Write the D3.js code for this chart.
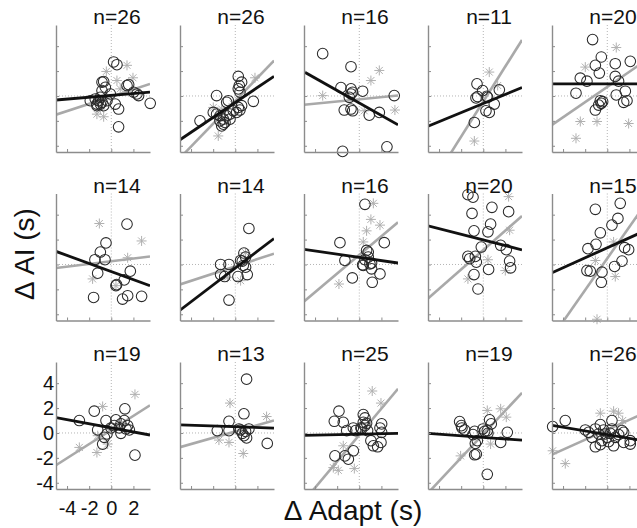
<!DOCTYPE html>
<html>
<head>
<meta charset="utf-8">
<style>
  body { margin: 0; background: #fff; }
  svg { display: block; font-family: "Liberation Sans", Arial, sans-serif; }
</style>
</head>
<body>
<svg id="chart"></svg>
<script src="https://cdn.jsdelivr.net/npm/d3@7"></script>
<script>
// panel titles, row by row
const nLabels = ["n=26", "n=26", "n=16", "n=11", "n=20",
                 "n=14", "n=14", "n=16", "n=20", "n=15",
                 "n=19", "n=13", "n=25", "n=19", "n=26"];

const xTicks = [-4, -2, 0, 2];
const yTicks = [-4, -2, 0, 2, 4];

// open circles (x = change in adaptation, y = change in AI)
const circleX = [
  [0.21, 0.51, -0.84, -0.69, 1.42, 1.57, -0.84, -0.99, -1.14, -1.3, -0.69, -0.99, -0.39, 0.36, 0.66, 2.32, 2.47, 3.52, 0.66, -1.9, -1.45, -0.54, -0.09, 2.02, -0.84, -1.3],
  [0.27, 0.57, 0.36, 0.27, 0.42, -1.69, -0.63, -0.78, 1.63, -3.19, -1.99, -1.39, -1.08, -0.93, -1.23, -1.08, -0.48, -0.18, 0.27, 0.57, 0.42, 0.12, -1.39, -0.78, -0.48, -1.69],
  [-3.31, -0.75, -1.66, -0.75, -0.6, -0.75, 0.3, -0.9, -1.36, -0.75, -0.6, 0.9, 1.81, 3.16, -1.51, 2.5],
  [-0.57, -0.66, -0.51, 0.33, 0.39, 1.45, 0.99, 0.24, 0.54, -0.81, -0.06],
  [-1.33, -0.54, -1.08, -0.72, 0.72, 2.08, -2.44, -1.84, 0.72, 1.02, -2.83, 1.63, 0.81, 1.48, 1.78, -0.63, -0.54, -0.78, -1.08, -0.42],
  [1.42, -0.48, -0.99, -1.48, -0.57, -1.23, 1.72, 0.42, 1.48, 1.02, 2.74, -1.6, 0.48, 1.17],
  [1.23, -1.33, -0.57, -1.33, -0.96, 0.48, 0.78, 0.93, 0.72, 0.24, 1.08, -0.57, 0.63, 0.93],
  [0.51, -1.75, 2.26, 0.66, 0.81, -1.3, 0.51, 0.36, 0.96, 1.11, 1.11, 1.87, -0.63, 1.17, 0.3, 0.81],
  [-1.39, -0.93, -1.02, 0.78, -0.84, 0.66, 0.42, 2.29, -0.18, 1.57, 2.08, -1.39, -0.72, -0.63, 0.48, 2.38, 2.47, -0.84, -0.48, -1.23],
  [-1.08, 1.17, 0.96, 0.42, -0.63, -1.02, -1.75, 1.57, 1.33, 0.66, -1.84, -1.54, -0.48, -0.54, 1.93],
  [-2.89, -1.54, 1.23, -1.23, -0.48, 0.42, 0.87, 1.17, 1.48, 0.72, 1.33, 0.87, -0.39, -0.63, -0.78, 2.14, -0.03, 0.27, 1.63],
  [1.02, -0.57, 0.78, -1.63, -0.57, 0.48, 0.93, 0.78, 1.02, 2.89, 1.23, 0.63, 0.33],
  [-1.84, -1.45, -2.26, -0.54, 0.36, 0.51, 0.36, 0.51, 0.15, 2.02, 1.87, 2.02, -1.14, -0.33, 0.75, 1.05, 1.27, 1.66, 1.96, -2.2, -1.3, -0.99, -0.54, 0.21, 0.66],
  [-2.14, -1.93, -0.78, -0.93, -0.54, -0.78, -0.63, 0.36, 0.57, 0.72, 0.36, 0.42, 2.17, 1.57, -1.99, -0.03, 0.12, -0.72, -1.69],
  [-3.8, -4.94, -1.99, -0.63, 0.42, 0.42, 1.33, 1.48, -0.78, -0.18, 0.27, -1.08, -0.63, 0.57, 1.48, 2.08, -1.39, -0.33, -0.03, 0.72, -1.69, 1.02, 2.08, -0.48, 0.12, -1.08]
];
const circleY = [
  [2.73, 2.51, 1.11, 1.16, 0.84, 0.92, 0.43, -0.11, -0.38, -0.65, -0.78, -0.65, -0.38, -0.65, -1.05, 0.16, 0.03, -0.59, -2.48, -0.38, -0.24, 0.7, 0.16, 0.3, -0.51, -0.78],
  [1.57, 1.11, 0.84, 0.57, 0.3, 0.03, -0.38, -0.51, -0.43, -2.0, -1.32, -1.59, -1.86, -2.13, -2.4, -2.27, -1.46, -1.19, -0.92, -0.78, -1.13, -1.32, -2.0, -1.59, -1.86, -1.46],
  [3.4, 2.35, 0.67, 0.57, 0.3, 0.16, 0.38, -0.11, -1.13, -1.05, -1.19, -1.54, -1.32, 0.03, -4.45, -4.08],
  [0.97, -0.16, -0.05, -0.03, -0.11, 0.49, -0.65, -1.19, -1.32, -2.13, 0.43],
  [4.53, 3.13, 2.46, 1.84, 2.59, 2.78, 1.43, 1.19, 1.57, 1.19, 0.22, 0.38, 0.08, -0.51, -0.38, -0.38, -0.59, -0.73, -1.13, -0.46],
  [3.24, 1.73, 1.0, 0.38, 0.38, -0.7, -0.54, -1.7, -2.51, -2.78, -2.56, -2.65, -1.62, -1.24],
  [2.89, 0.0, 0.0, -0.81, -0.97, 0.32, 0.92, 0.59, -0.08, -0.97, -0.81, -2.86, 0.27, -0.22],
  [4.83, 1.75, 1.75, 1.13, 1.0, 0.32, 0.38, -0.08, 0.05, 0.11, -0.35, -0.76, -1.08, -1.43, -0.03, 0.59],
  [5.6, 5.4, 4.1, 4.59, 2.7, 3.24, 2.62, 4.24, 1.4, 1.54, 1.19, 0.65, 0.65, 0.19, -0.4, 0.27, -0.27, -0.81, -1.97, 0.46],
  [4.43, 4.91, 3.7, 3.16, 2.54, 1.62, 1.27, 1.35, 0.27, -0.16, -0.49, -0.54, -0.62, -1.43, 1.19],
  [1.0, 1.75, 1.94, 0.24, 1.0, 1.05, 0.73, 1.0, 0.59, 0.4, 0.32, -0.03, -0.08, -0.35, -0.89, -1.78, 0.4, 0.59, 0.24],
  [4.32, 0.94, 1.54, 0.19, 0.19, 0.24, 0.13, -0.22, -0.4, -0.84, 0.32, -0.03, 0.32],
  [1.75, 0.86, 0.94, 0.4, 1.48, 1.21, 0.86, 0.59, 0.4, 0.73, 0.4, 0.05, 0.19, 0.19, 0.19, -0.62, -1.03, -1.11, -0.76, -1.84, -1.84, -2.11, -1.43, 0.32, 0.78],
  [0.92, 0.4, 0.13, -0.13, -0.62, -1.75, -1.7, -3.32, 1.05, 0.73, 0.19, -0.03, 0.05, -0.76, 0.59, 0.32, 0.13, -0.84, 0.24],
  [1.0, 0.51, 0.24, 0.67, 1.0, 0.32, 0.19, 0.05, -0.08, -0.08, -0.03, -1.11, -0.94, -1.03, -0.76, -0.89, -0.35, 0.24, -0.35, -0.35, 0.05, -0.13, -0.62, -0.62, -0.7, 0.32]
];

// grey asterisks (second condition)
const starX = [
  [1.42, -0.45, 0.51, 1.96, -1.3, -0.69, -0.99, -0.39, 0.81],
  [-1.54, 1.78, -1.23, -0.18, -1.99],
  [1.81, 1.05, -3.31, 3.22, 0.45],
  [0.54, -0.81, 1.3],
  [0.81, -2.44, -0.93, -2.83, 1.93, -1.99],
  [-1.08, 2.74, 1.48, -1.69, 0.42],
  [0.48, -0.72, 0.93],
  [1.27, 1.05, 1.87, 0.66, 0.36, -1.84],
  [2.29, 2.38, -1.39, 1.99, 0.42],
  [-0.93, 0.72, -1.08, 0.57],
  [2.14, -0.78, -2.89, -1.3, -0.33, -1.23],
  [-0.48, 2.83, 0.72, -1.48, -0.57],
  [1.17, 1.96, -1.45, -1.9, -0.45, -2.35],
  [0.36, 1.57, 2.08, 0.66, -2.05],
  [-3.8, -0.63, 0.57, 1.02, 1.39, -4.94]
];
const starY = [
  [2.46, 1.97, 1.24, 1.46, -1.46, -1.67, -1.05, -0.11, 0.57],
  [-3.21, 1.46, -1.05, -0.65, -0.92],
  [2.05, 1.24, 0.03, -1.13, -1.19],
  [1.92, -3.62, 0.84],
  [3.89, -2.05, -2.05, -3.4, -2.21, 2.32],
  [3.29, 1.89, 0.54, -1.16, -1.7],
  [-1.3, -1.03, 0.95],
  [4.91, 3.62, 3.16, 2.7, 1.81, -1.57],
  [5.45, 2.75, -1.16, -0.49, 0.38],
  [-4.4, -0.97, 0.32, 1.81],
  [3.1, 2.13, -1.16, -1.57, -0.89, -0.22],
  [2.4, 1.32, -1.65, -0.57, -0.76],
  [3.37, 2.4, -1.03, -3.0, -2.86, -2.78],
  [1.81, 1.94, 1.27, -0.89, -1.84],
  [-2.46, 1.59, 1.75, 1.59, 1.0, -1.43]
];

// least-squares lines [slope, intercept]
const blackFit = [
  [0.075, 0.05], [0.60, -0.52], [-0.50, -0.56], [0.367, -0.6], [0, 0.97],
  [-0.324, -0.57], [0.677, -0.29], [-0.13, 0.57], [-0.227, 1.97], [0.40, 1.34],
  [-0.164, 0.41], [-0.03, 0.5], [0.019, -0.1], [-0.065, -0.35], [-0.149, -0.14]
];
const grayFit = [
  [0.29, -0.05], [0.92, -0.38], [0.087, -0.27], [1.41, -0.44], [0.61, 0.73],
  [0.11, 0.26], [0.29, -0.15], [0.75, 0.77], [0.78, 1.16], [1.27, 0.49],
  [0.566, 0.24], [0.252, 0.12], [1.06, -0.16], [0.947, -0.09], [0.40, 0.26]
];

const width = 637, height = 528;
const pw = 94, ph = 127;
const left0 = 56, top0 = 25, colStep = 124, rowStep = 168.5;
const axisColor = "#8c8c8c";

let svg = d3.select("#chart")
    .attr("width", width)
    .attr("height", height);

let x = d3.scaleLinear().domain([-5, 3.5]).range([0, pw]);
let y = d3.scaleLinear().domain([-4.5, 5.7]).range([ph, 0]);

let minusFmt = d => d < 0 ? "-" + Math.abs(d) : String(d);

svg.append("defs").append("clipPath")
    .attr("id", "plotclip")
  .append("rect")
    .attr("width", pw)
    .attr("height", ph);

nLabels.forEach((label, i) => {
  let row = Math.floor(i / 5), col = i % 5;
  let g = svg.append("g")
      .attr("transform", "translate(" + (left0 + col * colStep) + "," + (top0 + row * rowStep) + ")");

  // dotted zero lines
  g.append("line")
      .attr("x1", x(0)).attr("x2", x(0))
      .attr("y1", 0).attr("y2", ph)
      .attr("stroke", "#b4b4b4").attr("stroke-dasharray", "1,2");
  g.append("line")
      .attr("x1", 0).attr("x2", pw)
      .attr("y1", y(0)).attr("y2", y(0))
      .attr("stroke", "#b4b4b4").attr("stroke-dasharray", "1,2");

  // asterisks
  let stars = starX[i].map((v, k) => [v, starY[i][k]]);
  g.append("g").selectAll("path")
    .data(stars)
    .enter()
    .append("path")
      .attr("transform", d => "translate(" + x(d[0]) + "," + y(d[1]) + ")")
      .attr("d", "M-5,0H5M0,-5V5M-3.5,-3.5L3.5,3.5M-3.5,3.5L3.5,-3.5")
      .attr("stroke", "#b0b0b0")
      .attr("stroke-width", 1)
      .attr("fill", "none");

  let fitLine = f => "M" + x(-5) + "," + y(f[1] + f[0] * -5) + "L" + x(3.5) + "," + y(f[1] + f[0] * 3.5);

  g.append("g").attr("clip-path", "url(#plotclip)")
    .append("path")
      .attr("d", fitLine(grayFit[i]))
      .attr("stroke", "#a9a9a9")
      .attr("stroke-width", 2.6)
      .attr("fill", "none");

  // circles
  let pts = circleX[i].map((v, k) => [v, circleY[i][k]]);
  g.append("g").selectAll("circle")
    .data(pts)
    .enter()
    .append("circle")
      .attr("cx", d => x(d[0]))
      .attr("cy", d => y(d[1]))
      .attr("r", 5.3)
      .attr("fill", "none")
      .attr("stroke", "#2a2a2a")
      .attr("stroke-width", 1.05);

  g.append("g").attr("clip-path", "url(#plotclip)")
    .append("path")
      .attr("d", fitLine(blackFit[i]))
      .attr("stroke", "#111")
      .attr("stroke-width", 2.8)
      .attr("fill", "none");

  // axes (left and bottom only, ticks pointing in)
  let isCorner = (row === 2 && col === 0);
  let xAxis = d3.axisBottom(x).tickValues(xTicks).tickSizeInner(-3).tickSizeOuter(0)
      .tickFormat(isCorner ? minusFmt : () => "");
  let yAxis = d3.axisLeft(y).tickValues(yTicks).tickSizeInner(-3).tickSizeOuter(0)
      .tickFormat(isCorner ? minusFmt : () => "");

  let xa = g.append("g").attr("transform", "translate(0," + ph + ")").call(xAxis);
  let ya = g.append("g").call(yAxis);
  [xa, ya].forEach(a => {
    a.select(".domain").attr("stroke", axisColor).attr("stroke-width", 1.4);
    a.selectAll(".tick line").attr("stroke", axisColor);
    a.selectAll(".tick text")
        .attr("fill", "#111")
        .style("font-size", "20px")
        .style("font-family", "'Liberation Sans', Arial, sans-serif");
  });
  xa.selectAll(".tick text").attr("y", 12).attr("dy", "0.71em");
  ya.selectAll(".tick text").attr("x", -2);

  // title
  g.append("text")
      .attr("x", pw / 2 + 14)
      .attr("y", -1)
      .attr("text-anchor", "middle")
      .style("font-size", "21px")
      .attr("fill", "#111")
      .text(label);
});

// axis labels
svg.append("text")
    .attr("transform", "translate(34,254) rotate(-90)")
    .attr("text-anchor", "middle")
    .style("font-size", "28px")
    .attr("fill", "#111")
    .text("\u0394 AI (s)");

svg.append("text")
    .attr("x", 353)
    .attr("y", 520)
    .attr("text-anchor", "middle")
    .style("font-size", "28px")
    .attr("fill", "#111")
    .text("\u0394 Adapt (s)");
</script>
</body>
</html>
